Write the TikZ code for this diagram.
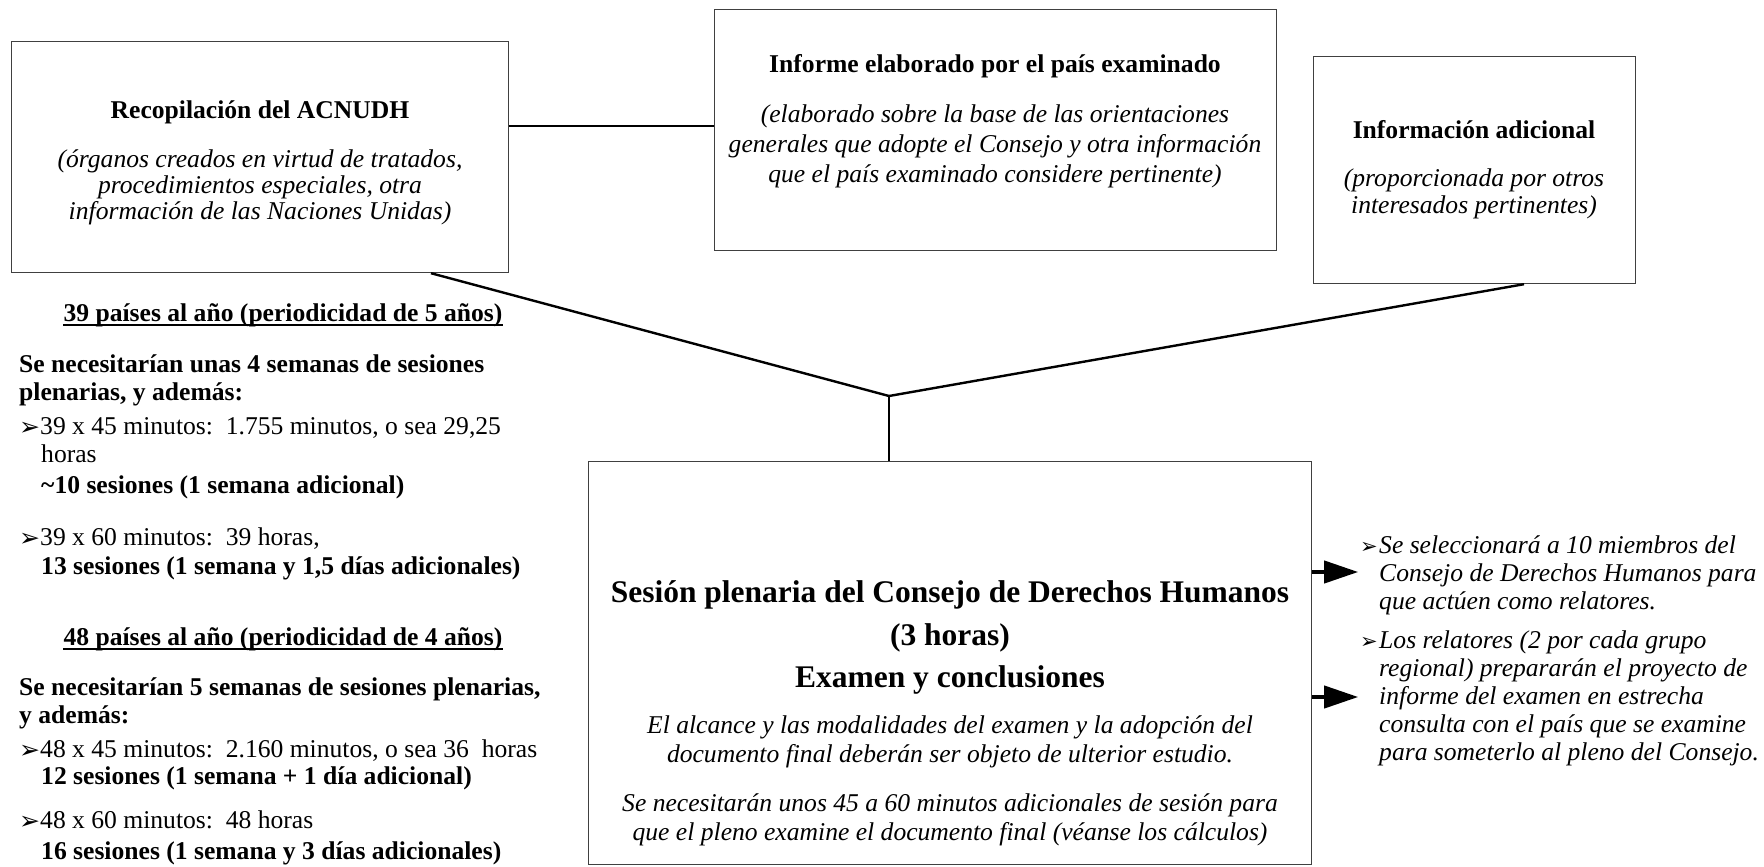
\documentclass[tikz,border=0pt]{standalone}
\usepackage{fontspec}
\setmainfont{Liberation Serif}
\newfontfamily\dejavu{DejaVu Sans}
\usetikzlibrary{calc,arrows.meta}
\newcommand\bulA{\makebox[21pt][l]{\raisebox{-1pt}{\dejavu\fontsize{25}{25}\selectfont ➢}}}
\newcommand\bulB{\makebox[19pt][l]{\dejavu\fontsize{21}{21}\selectfont ➢}}
\begin{document}
\begin{tikzpicture}[x=1pt,y=-1pt]
\tikzset{
  box/.style={draw=black!75, line width=1.2pt, inner sep=0pt, anchor=north west},
  conn/.style={draw=black, line width=2.4pt},
  thinconn/.style={draw=black, line width=1.2pt},
  uline/.style={draw=black, line width=1.8pt},
  arrowst/.style={draw=black, line width=4pt, -{Triangle[length=34pt,width=22pt]}},
  body/.style={inner sep=0pt, font=\fontsize{25.6}{28}\selectfont},
  bt/.style={body, font=\fontsize{25.6}{28}\selectfont\bfseries},
  it/.style={body, font=\fontsize{25.6}{28}\selectfont\itshape},
  big/.style={inner sep=0pt, font=\fontsize{31.5}{36}\selectfont\bfseries}
}
\useasboundingbox[fill=white] (0,0) rectangle (1764,867);

% boxes
\node[box, minimum width=497, minimum height=231] (b1) at (11,41) {};
\node[box, minimum width=562, minimum height=241] (b2) at (714,9) {};
\node[box, minimum width=322, minimum height=227] (b3) at (1313,56) {};
\node[box, minimum width=723, minimum height=403] (m) at (588,461) {};

% box 1 text
\node[bt, anchor=base] (b1t) at (260,118) {Recopilación del ACNUDH};
\node[it, anchor=base] (b1a) at (260,167) {(órganos creados en virtud de tratados,};
\node[it, anchor=base] (b1b) at (260,193) {procedimientos especiales, otra};
\node[it, anchor=base] (b1c) at (260,219) {información de las Naciones Unidas)};

% box 2 text
\node[bt, anchor=base] (b2t) at (995,73) {Informe elaborado por el país examinado};
\node[it, anchor=base] (b2a) at (995,122) {(elaborado sobre la base de las orientaciones};
\node[it, anchor=base] (b2b) at (995,152) {generales que adopte el Consejo y otra información};
\node[it, anchor=base] (b2c) at (995,182) {que el país examinado considere pertinente)};

% box 3 text
\node[bt, anchor=base] (b3t) at (1474,138) {Información adicional};
\node[it, anchor=base] (b3a) at (1474,186) {(proporcionada por otros};
\node[it, anchor=base] (b3b) at (1474,213) {interesados pertinentes)};

% main box text
\node[big, anchor=base] (mt1) at (950,602) {Sesión plenaria del Consejo de Derechos Humanos};
\node[big, anchor=base] (mt2) at (950,645) {(3 horas)};
\node[big, anchor=base] (mt3) at (950,687) {Examen y conclusiones};
\node[it, anchor=base] (ma) at (950,733) {El alcance y las modalidades del examen y la adopción del};
\node[it, anchor=base] (mb) at (950,762) {documento final deberán ser objeto de ulterior estudio.};
\node[it, anchor=base] (mc) at (950,811) {Se necesitarán unos 45 a 60 minutos adicionales de sesión para};
\node[it, anchor=base] (md) at (950,840) {que el pleno examine el documento final (véanse los cálculos)};

% connectors
\coordinate (J) at (889,396);
\coordinate (h) at (0,126);
\draw[thinconn] (b1.east |- h) -- (b2.west |- h);
\draw[conn] ($(b1.south west)+(420,0)$) -- (J);
\draw[conn] ($(b3.south west)+(211,0)$) -- (J);
\draw[conn] (J) -- (J |- m.north);

% arrows
\draw[arrowst] ($(m.north east)+(0,111)$) -- ++(46,0);
\draw[arrowst] ($(m.north east)+(0,236)$) -- ++(46,0);

% right text
\node[it, anchor=base west] (r1) at (1360,553) {\bulB Se seleccionará a 10 miembros del};
\node[it, anchor=base west] (r2) at (1379,581) {Consejo de Derechos Humanos para};
\node[it, anchor=base west] (r3) at (1379,609) {que actúen como relatores.};
\node[it, anchor=base west] (r4) at (1360,648) {\bulB Los relatores (2 por cada grupo};
\node[it, anchor=base west] (r5) at (1379,676) {regional) prepararán el proyecto de};
\node[it, anchor=base west] (r6) at (1379,704) {informe del examen en estrecha};
\node[it, anchor=base west] (r7) at (1379,732) {consulta con el país que se examine};
\node[it, anchor=base west] (r8) at (1379,760) {para someterlo al pleno del Consejo.};

% left text
\node[bt, anchor=base] (l1) at (283,321) {39 países al año (periodicidad de 5 años)};
\draw[uline] ($(l1.base west)+(0,4)$) -- ($(l1.base east)+(0,4)$);
\node[bt, anchor=base west] (l2) at (19,372) {Se necesitarían unas 4 semanas de sesiones};
\node[bt, anchor=base west] (l3) at (19,400) {plenarias, y además:};
\node[body, anchor=base west] (l4) at (19,434) {\bulA 39 x 45 minutos:\ \ 1.755 minutos, o sea 29,25};
\node[body, anchor=base west] (l5) at (41,462) {horas};
\node[bt, anchor=base west] (l6) at (41,493) {\textasciitilde 10 sesiones (1 semana adicional)};
\node[body, anchor=base west] (l7) at (19,545) {\bulA 39 x 60 minutos:\ \ 39 horas,};
\node[bt, anchor=base west] (l8) at (41,574) {13 sesiones (1 semana y 1,5 días adicionales)};
\node[bt, anchor=base] (l9) at (283,645) {48 países al año (periodicidad de 4 años)};
\draw[uline] ($(l9.base west)+(0,4)$) -- ($(l9.base east)+(0,4)$);
\node[bt, anchor=base west] (l10) at (19,695) {Se necesitarían 5 semanas de sesiones plenarias,};
\node[bt, anchor=base west] (l11) at (19,723) {y además:};
\node[body, anchor=base west] (l12) at (19,757) {\bulA 48 x 45 minutos:\ \ 2.160 minutos, o sea 36\ \ horas};
\node[bt, anchor=base west] (l13) at (41,784) {12 sesiones (1 semana + 1 día adicional)};
\node[body, anchor=base west] (l14) at (19,828) {\bulA 48 x 60 minutos:\ \ 48 horas};
\node[bt, anchor=base west] (l15) at (41,859) {16 sesiones (1 semana y 3 días adicionales)};
\end{tikzpicture}
\end{document}
